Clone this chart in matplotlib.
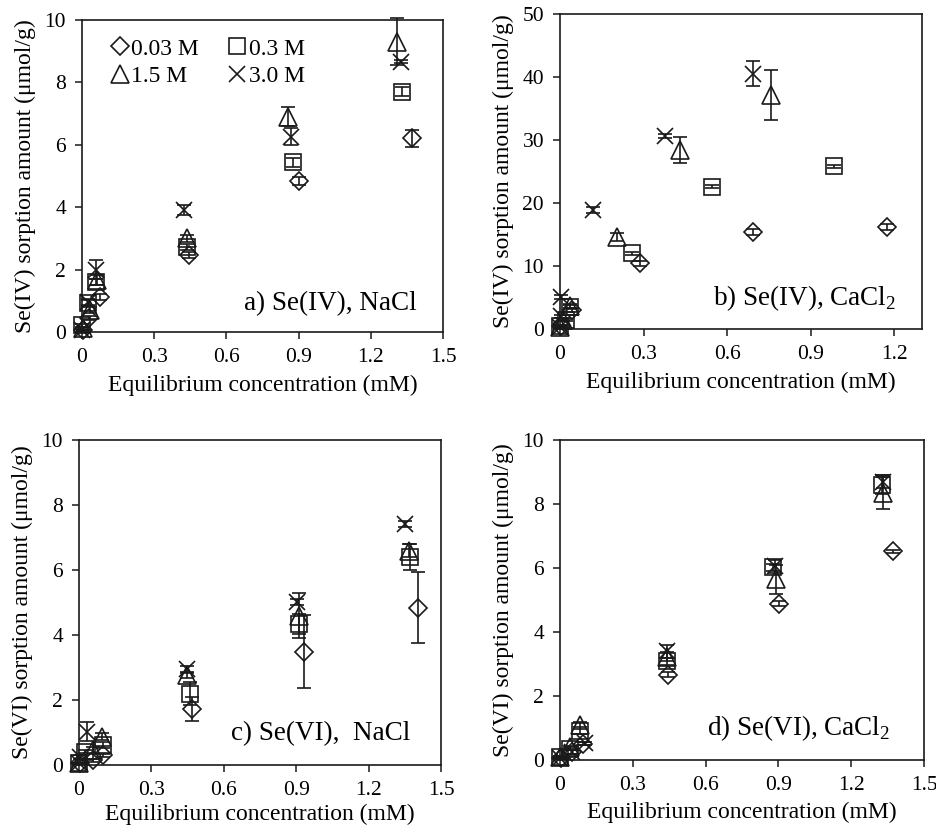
import matplotlib
matplotlib.use("Agg")
import matplotlib.pyplot as plt
from matplotlib.lines import Line2D

plt.rcParams['font.family'] = ['Liberation Serif', 'DejaVu Serif']
plt.rcParams['mathtext.fontset'] = 'custom'
plt.rcParams['mathtext.rm'] = 'Liberation Serif'

series_labels = ["0.03 M", "0.3 M", "1.5 M", "3.0 M"]
series_markers = ["D", "s", "^", "x"]

# Panel a: Se(IV), NaCl
a_x_003 = [0.005, 0.03, 0.075, 0.446, 0.903, 1.37]
a_y_003 = [0.06, 0.45, 1.13, 2.47, 4.84, 6.21]
a_e_003 = [0.02, 0.05, 0.1, 0.1, 0.12, 0.28]
a_x_03 = [0.0, 0.026, 0.058, 0.438, 0.878, 1.33]
a_y_03 = [0.22, 0.93, 1.61, 2.73, 5.44, 7.70]
a_e_03 = [0.05, 0.1, 0.1, 0.1, 0.15, 0.15]
a_x_15 = [0.005, 0.033, 0.064, 0.437, 0.857, 1.31]
a_y_15 = [0.12, 0.70, 1.67, 3.0, 6.9, 9.3]
a_e_15 = [0.05, 0.1, 0.15, 0.1, 0.3, 0.75]
a_x_30 = [0.0, 0.026, 0.058, 0.424, 0.867, 1.325]
a_y_30 = [0.06, 0.97, 2.0, 3.91, 6.26, 8.66]
a_e_30 = [0.05, 0.1, 0.3, 0.15, 0.28, 0.05]

# Panel b: Se(IV), CaCl2
b_x_003 = [0.005, 0.042, 0.288, 0.692, 1.176]
b_y_003 = [0.5, 3.0, 10.4, 15.4, 16.2]
b_e_003 = [0.2, 0.3, 0.4, 0.5, 0.5]
b_x_03 = [0.0, 0.02, 0.036, 0.258, 0.546, 0.984]
b_y_03 = [0.4, 1.4, 3.5, 12.0, 22.6, 25.8]
b_e_03 = [0.2, 0.2, 0.3, 0.3, 0.2, 0.2]
b_x_15 = [0.0, 0.01, 0.036, 0.204, 0.432, 0.756]
b_y_15 = [0.3, 1.5, 3.7, 14.6, 28.4, 37.1]
b_e_15 = [0.1, 0.2, 0.3, 0.6, 2.0, 4.0]
b_x_30 = [0.0, 0.005, 0.002, 0.12, 0.378, 0.692]
b_y_30 = [0.3, 2.0, 5.1, 18.9, 30.6, 40.5]
b_e_30 = [0.1, 0.2, 0.3, 0.5, 0.3, 2.0]

# Panel c: Se(VI), NaCl
c_x_003 = [0.005, 0.06, 0.10, 0.468, 0.932, 1.406]
c_y_003 = [0.05, 0.15, 0.3, 1.72, 3.49, 4.84]
c_e_003 = [0.02, 0.05, 0.05, 0.36, 1.13, 1.09]
c_x_03 = [0.0, 0.025, 0.10, 0.46, 0.913, 1.372]
c_y_03 = [0.05, 0.41, 0.61, 2.2, 4.34, 6.39]
c_e_03 = [0.02, 0.05, 0.1, 0.35, 0.3, 0.4]
c_x_15 = [0.0, 0.06, 0.094, 0.446, 0.913, 1.369]
c_y_15 = [0.05, 0.45, 0.87, 2.77, 4.6, 6.6]
c_e_15 = [0.02, 0.1, 0.1, 0.1, 0.7, 0.2]
c_x_30 = [0.0, 0.005, 0.032, 0.446, 0.902, 1.351]
c_y_30 = [0.05, 0.25, 1.03, 2.94, 5.02, 7.42]
c_e_30 = [0.02, 0.05, 0.3, 0.1, 0.1, 0.1]

# Panel d: Se(VI), CaCl2
d_x_003 = [0.005, 0.05, 0.096, 0.446, 0.903, 1.372]
d_y_003 = [0.05, 0.25, 0.51, 2.67, 4.88, 6.52]
d_e_003 = [0.02, 0.05, 0.05, 0.08, 0.08, 0.05]
d_x_03 = [0.0, 0.04, 0.082, 0.44, 0.879, 1.325]
d_y_03 = [0.1, 0.35, 0.92, 3.08, 6.02, 8.6]
d_e_03 = [0.02, 0.05, 0.1, 0.1, 0.1, 0.3]
d_x_15 = [0.0, 0.04, 0.082, 0.44, 0.89, 1.332]
d_y_15 = [0.1, 0.4, 1.08, 3.23, 5.65, 8.35]
d_e_15 = [0.02, 0.05, 0.1, 0.15, 0.45, 0.5]
d_x_30 = [0.0, 0.05, 0.103, 0.44, 0.886, 1.332]
d_y_30 = [0.05, 0.25, 0.52, 3.4, 6.05, 8.7]
d_e_30 = [0.02, 0.05, 0.05, 0.2, 0.2, 0.2]

panel_titles = ["a) Se(IV), NaCl", r"b) Se(IV), CaCl$_{\mathregular{2}}$",
                "c) Se(VI),  NaCl", r"d) Se(VI), CaCl$_{\mathregular{2}}$"]
y_labels = ["Se(IV) sorption amount (\u03bcmol/g)", "Se(IV) sorption amount (\u03bcmol/g)",
            "Se(VI) sorption amount (\u03bcmol/g)", "Se(VI) sorption amount (\u03bcmol/g)"]
x_label = "Equilibrium concentration (mM)"
x_ticks_15 = [0, 0.3, 0.6, 0.9, 1.2, 1.5]
x_ticks_13 = [0, 0.3, 0.6, 0.9, 1.2]
x_tick_labels_15 = ["0", "0.3", "0.6", "0.9", "1.2", "1.5"]
x_tick_labels_13 = ["0", "0.3", "0.6", "0.9", "1.2"]
y_ticks_10 = [0, 2, 4, 6, 8, 10]
y_ticks_50 = [0, 10, 20, 30, 40, 50]

panels = [
    [(a_x_003, a_y_003, a_e_003), (a_x_03, a_y_03, a_e_03), (a_x_15, a_y_15, a_e_15), (a_x_30, a_y_30, a_e_30)],
    [(b_x_003, b_y_003, b_e_003), (b_x_03, b_y_03, b_e_03), (b_x_15, b_y_15, b_e_15), (b_x_30, b_y_30, b_e_30)],
    [(c_x_003, c_y_003, c_e_003), (c_x_03, c_y_03, c_e_03), (c_x_15, c_y_15, c_e_15), (c_x_30, c_y_30, c_e_30)],
    [(d_x_003, d_y_003, d_e_003), (d_x_03, d_y_03, d_e_03), (d_x_15, d_y_15, d_e_15), (d_x_30, d_y_30, d_e_30)],
]

INK = '#1a1a1a'
W, H = 937, 826
fig = plt.figure(figsize=(W / 100, H / 100), dpi=100)
boxes = [(82, 443, 20, 332), (560, 922, 14, 329), (79, 441, 440, 765), (560, 924, 440, 760)]
xlims = [1.5, 1.3, 1.5, 1.5]
ylims = [10, 50, 10, 10]
title_pos = [(0.928, 0.07), (0.93, 0.076), (0.914, 0.077), (0.907, 0.078)]
xlabel_pads = [5.5, 5.5, 3.0, 5.0]

msizes = {"D": 9, "s": 11.5, "^": 13, "x": 12}

for i, data in enumerate(panels):
    l, r, t, b = boxes[i]
    ax = fig.add_axes([l / W, 1 - b / H, (r - l) / W, (b - t) / H])
    for (xs, ys, es), mk, lab in zip(data, series_markers, series_labels):
        ax.errorbar(xs, ys, yerr=es, fmt=mk, ms=msizes[mk], mfc='none', mec=INK,
                    mew=1.2, ecolor=INK, elinewidth=1.2, capsize=5, capthick=1.2,
                    clip_on=False)
    ax.set_xlim(0, xlims[i])
    ax.set_ylim(0, ylims[i])
    if xlims[i] == 1.3:
        ax.set_xticks(x_ticks_13)
        ax.set_xticklabels(x_tick_labels_13)
    else:
        ax.set_xticks(x_ticks_15)
        ax.set_xticklabels(x_tick_labels_15)
    ax.set_yticks(y_ticks_50 if ylims[i] == 50 else y_ticks_10)
    ax.tick_params(direction='out', length=5, width=1.1, labelsize=15.5, pad=6.5, color=INK)
    for s in ax.spines.values():
        s.set_linewidth(1.2)
        s.set_color(INK)
    ax.set_xlabel(x_label, fontsize=17, labelpad=xlabel_pads[i])
    ax.set_ylabel(y_labels[i], fontsize=17, labelpad=6)
    ax.text(title_pos[i][0], title_pos[i][1], panel_titles[i], transform=ax.transAxes,
            ha='right', va='baseline', fontsize=19.5)
    if i == 0:
        handles = [Line2D([], [], ls='none', marker=mk, ms=msizes[mk], mfc='none', mec=INK, mew=1.2)
                   for mk in series_markers]
        order = [0, 2, 1, 3]
        ax.legend([handles[k] for k in order], [series_labels[k] for k in order],
                  loc='upper left', bbox_to_anchor=(0.0845, 0.942), ncol=2, frameon=False,
                  fontsize=17, handlelength=0.6, handletextpad=0.2, columnspacing=1.3,
                  labelspacing=0.25, borderaxespad=0, borderpad=0)

fig.savefig("out.png", dpi=100)
